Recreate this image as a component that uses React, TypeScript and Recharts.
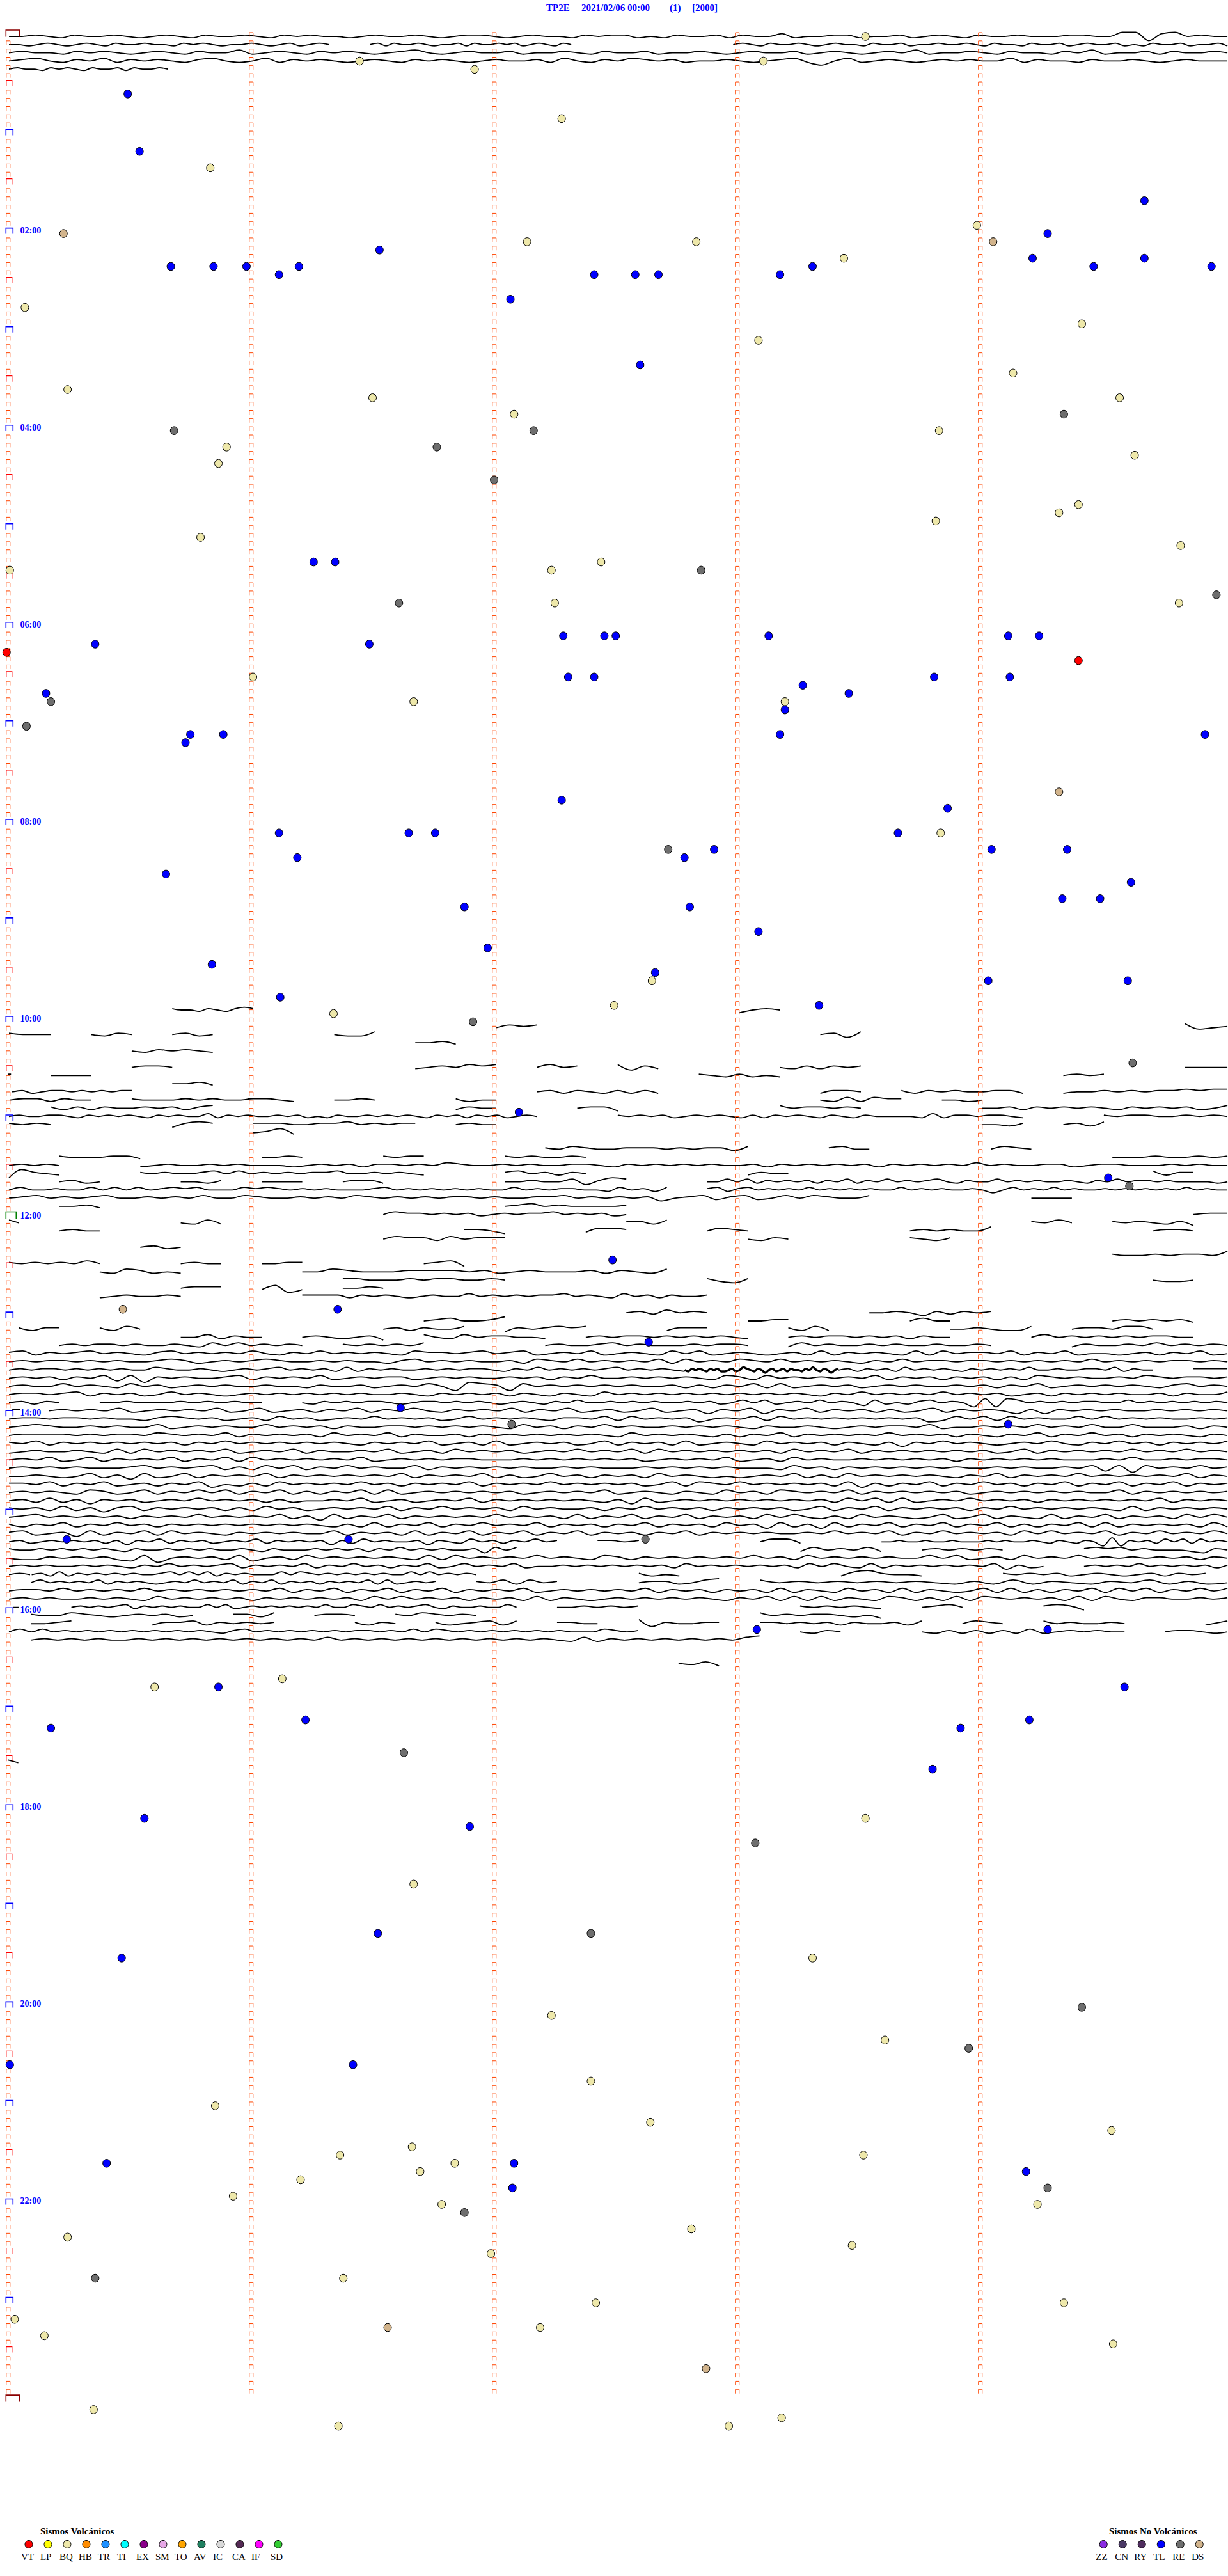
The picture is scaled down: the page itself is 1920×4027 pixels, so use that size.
import React from "react";
import {ComposedChart, Line, Scatter, XAxis, YAxis} from "recharts";

// every dot is [row of 5 minutes, second inside that row]
const bqEvents: [number, number][] = [
    [0, 210.8], [3, 86.4], [4, 114.7], [3, 185.7], [10, 136.1], [16, 49.7], [23, 238.2], [25, 127.6], [25, 169.2],
    [27, 205.5], [33, 4.1], [35, 264], [37, 184.5], [41, 247.1], [43, 14.6], [44, 89.6], [44, 273.3], [46, 124.4],
    [48, 228.9], [50, 53.7], [52, 51.7], [51, 277], [57, 263.2], [58, 258.4], [59, 228.1], [61, 47.3], [62, 288.3],
    [65, 133.6], [64, 145.8], [65, 0.4], [69, 134.4], [69, 287.9], [78, 60.2], [81, 99.7], [81, 191], [97, 229.3],
    [119, 80], [118, 149], [115, 158.3], [201, 36], [200, 67.4], [217, 210.8], [225, 99.7], [234, 197.8], [241, 133.6],
    [244, 215.6], [249, 143.3], [252, 50.9], [254, 157.9], [255, 271.3], [257, 99.3], [258, 81.6], [259, 109.8],
    [258, 210.3], [260, 101.3], [261, 71.9], [263, 55.3], [264, 106.6], [264, 253.1], [268, 14.6], [267, 168],
    [269, 207.5], [270, 118.7], [273, 82.4], [276, 144.5], [276, 259.6], [278, 1.6], [280, 8.9], [279, 130.8],
    [281, 271.7], [289, 21], [291, 81.2], [291, 177.2], [290, 190.2],
]
const tlEvents: [number, number][] = [
    [7, 29.4], [14, 32.3], [20, 279.4], [24, 255.6], [26, 91.3], [27, 251.9], [27, 279.4], [28, 40], [28, 50.5],
    [28, 58.6], [28, 71.5], [28, 266.9], [28, 295.9], [29, 66.6], [29, 144.1], [29, 154.2], [29, 159.9], [29, 189.8],
    [28, 197.8], [32, 123.5], [40, 155.4], [64, 75.1], [64, 80.4], [74, 21.4], [74, 88.8], [73, 136.5], [73, 146.6],
    [73, 149.4], [73, 187], [73, 245.9], [73, 253.5], [78, 137.7], [78, 144.1], [78, 227.7], [78, 246.3], [79, 195.4],
    [80, 9.3], [80, 206.7], [82, 191], [85, 189.8], [85, 294.3], [85, 44.8], [85, 52.9], [86, 43.6], [93, 136.1],
    [94, 231], [97, 66.6], [97, 98.5], [97, 105], [97, 218.8], [100, 71.1], [99, 173.6], [100, 166.3], [99, 241.8],
    [99, 260.4], [103, 276.1], [102, 38.8], [105, 259.2], [105, 268.5], [106, 112.2], [106, 167.6], [109, 184.5],
    [111, 117.9], [113, 50.1], [114, 159.1], [115, 241], [115, 275.3], [117, 66.9], [118, 199.4], [131, 125.6],
    [139, 270.5], [149, 148.6], [155, 81], [159, 157.5], [167, 96.5], [169, 245.9], [183, 14.4], [183, 83.7], [194, 184.1],
    [194, 255.6], [201, 51.7], [201, 274.5], [205, 73.1], [206, 10.5], [206, 234.2], [205, 251.1], [211, 227.3],
    [217, 33.5], [218, 113.5], [231, 90.9], [234, 27.9], [247, 84.8], [247, 0.4], [259, 24.2], [259, 124.4], [262, 124],
    [260, 250.3],
]
const reEvents: [number, number][] = [
    [48, 40.8], [50, 105.4], [48, 129.2], [46, 259.6], [54, 119.5], [65, 170.4], [69, 96.1], [68, 297.1], [81, 10.5],
    [84, 4.5], [99, 162.3], [120, 114.3], [125, 276.5], [140, 275.7], [169, 123.8], [183, 156.7], [209, 97.3],
    [220, 183.7], [231, 143.3], [240, 264], [245, 236.2], [265, 112.2], [262, 255.6], [273, 21.4],
]
const dsEvents: [number, number][] = [
    [24, 13.6], [25, 242.2], [92, 258.4], [155, 28.2], [279, 93.3], [284, 171.6],
]
const vtEvents: [number, number][] = [[75, -0.4], [76, 263.2]]

const volcanicCodes = ["VT", "LP", "BQ", "HB", "TR", "TI", "EX", "SM", "TO", "AV", "IC", "CA", "IF", "SD"]
const volcanicColors = ["#ff0000", "#ffff00", "#eee8aa", "#ff8c00", "#1e90ff", "#00ffff", "#8b008b", "#e6a8e6", "#ffa500", "#208060", "#d8d8d8", "#552a55", "#ff00ff", "#32cd32"]
const otherCodes = ["ZZ", "CN", "RY", "TL", "RE", "DS"]
const otherColors = ["#8a2be2", "#4b3a66", "#4f2d5e", "#0000ff", "#6e6e6e", "#d2b48c"]
const hourRows = [24, 48, 72, 96, 120, 144, 168, 192, 216, 240, 264]
const hourLabels = ["02:00", "04:00", "06:00", "08:00", "10:00", "12:00", "14:00", "16:00", "18:00", "20:00", "22:00"]
const minuteMarks = [0, 60, 120, 180, 240]

// [row, first second, last second, wiggle of the trace: 5 is the row line, higher digit is higher on the page]
const traces: [number, number, number, string][] = [
    [0, 0.2, 301, "5565465565456546556546565545655654566545655465664546556465574556645564565465565556655882785655"],
    [1, 0.2, 79.2, "5545654565465565546565455654564565"],
    [1, 89.3, 139, "56465565455646556564565465"],
    [1, 179, 301, "565465565456554655645565565465546556456556454655645564"],
    [2, 0.2, 301, "5655465654565465574565465654567545655645565465564556545655645654565745565465546574556465565"],
    [3, 0.2, 301, "5675465746565467545746565456546565456556475465765645565456742574565456565574655465565456555"],
    [4, 0.2, 39.4, "56554656546556465565"],

    [119, 40.5, 60.5, "6554654676"], [119, 180.5, 190.5, "3565"],
    [121, 120.5, 130.5, "4656"], [121, 290.5, 301, "7345"],
    [122, 0.2, 10.5, "6555"], [122, 20.5, 30.5, "5465"], [122, 40.5, 50.5, "5645"], [122, 80.5, 90.5, "5447"], [122, 200.5, 210.5, "5637"],
    [123, 100.5, 110.5, "5564"],
    [124, 30.5, 50.5, "5465654"],
    [126, 30.5, 40.5, "5665"], [126, 100.5, 120.5, "4565767"], [126, 130.5, 140.5, "5756"], [126, 150.5, 160.5, "7364"], [126, 190.5, 210.5, "5464656"], [126, 290.5, 301, "5555"],
    [127, 0, 0.7, "66"], [127, 10.5, 20.5, "5555"], [127, 170.5, 190.5, "6546454"], [127, 260.5, 270.5, "5656"],
    [128, 40.5, 50.5, "5564"],
    [129, 1, 30.5, "5645665656566"], [129, 130.5, 160.5, "5646546464"], [129, 200.5, 210.5, "4665"], [129, 220.5, 250.5, "6465655664"], [129, 260.5, 301, "4556565667677"],
    [130, 0.5, 20.5, "5664655"], [130, 30.5, 70.5, "6555656556654"], [130, 80.5, 90.5, "5565"], [130, 110.5, 120.5, "6455"], [130, 200.5, 220.5, "5474766"], [130, 230.5, 240.5, "5545"],
    [131, 10.5, 50.5, "6464655656467"], [131, 110.5, 120.5, "4655"], [131, 140.5, 150.5, "5663"], [131, 190.5, 210.5, "7566565"], [131, 240.5, 301, "5564656565465656457"],
    [132, 0.2, 130.5, "565566546565654656557465655656454655656565465646564565"],
    [132, 150.5, 250.5, "6565645656546465654654655554746656654"],
    [132, 270.5, 301, "6566556565"],
    [133, 0.2, 10.5, "6565"], [133, 40.5, 50.5, "3676"], [133, 60.5, 100.5, "6665566756566"], [133, 110.5, 120.5, "5655"], [133, 240.5, 250.5, "5546"], [133, 260.5, 270.5, "5647"],
    [134, 60.5, 70.5, "5684"],

    [136, 132.6, 182.6, "6576556665656647"], [136, 202.6, 212.6, "6755"], [136, 242.6, 252.6, "5765"],
    [137, 12.6, 32.6, "6555664"], [137, 62.6, 72.6, "5565"], [137, 92.6, 102.6, "6566"], [137, 122.6, 142.6, "6565565"], [137, 272.6, 301, "555655656"],
    [138, 0.2, 12.6, "56565"],
    [138, 32.6, 301, "4565565655545656466565765565655665465656565564656565646565657565566456655565655"],
    [139, 0.2, 12.6, "28654"],
    [139, 32.6, 102.6, "656556757565656675565654"], [139, 122.6, 142.6, "6756465"], [139, 182.6, 192.6, "4655"], [139, 282.6, 292.6, "7466"],
    [140, 12.6, 22.6, "5645"], [140, 42.6, 52.6, "5546"], [140, 62.6, 72.6, "5555"], [140, 82.6, 92.6, "5664"], [140, 122.6, 152.6, "5565573687"], [140, 172.6, 301, "55757465656465746575656754655756565565465756656555545"],
    [141, 0.2, 162.6, "575565575757567675557676565655567565656565575656655475647"],
    [141, 172.6, 301, "6746756565756565655756565565357565756556565656575655"],
    [142, 0.2, 212.6, "567565675565657557655656576565656656556675656563567467457576557"],
    [142, 252.6, 262.6, "5555"],
    [143, 12.6, 22.6, "5564"], [143, 122.6, 152.6, "5675655556"],
    [144, 92.6, 152.6, "576656564565667565645"], [144, 292.6, 301, "566"],
    [145, 0.2, 2.6, "75"], [145, 42.6, 52.6, "5474"], [145, 152.6, 162.6, "6647"], [145, 252.6, 262.6, "6575"], [145, 272.6, 292.6, "6565463"],
    [146, 12.6, 22.6, "5655"], [146, 112.6, 122.6, "6653"], [146, 142.6, 152.6, "4776"], [146, 172.6, 182.6, "5765"], [146, 222.6, 242.6, "5656558"], [146, 282.6, 292.6, "5665"],
    [147, 92.6, 122.6, "5766475666"], [147, 182.6, 192.6, "5465"], [147, 222.6, 232.6, "6546"],
    [148, 32.6, 42.6, "5645"],
    [149, 272.6, 301, "655656658"],
    [150, 0.2, 22.6, "65656575"], [150, 42.6, 52.6, "5655"], [150, 62.6, 72.6, "5566"], [150, 102.6, 112.6, "5673"],
    [151, 22.6, 42.6, "5476454"], [151, 72.6, 162.6, "5576555666656456555646547"],
    [152, 82.6, 122.6, "6655565665565"], [152, 172.6, 182.6, "6436"], [152, 282.6, 292.6, "5445"],
    [153, 42.6, 52.6, "5666"], [153, 62.6, 72.6, "4724"], [153, 82.6, 92.6, "5565"],
    [154, 22.6, 42.6, "4565565"], [154, 72.6, 172.6, "66664656545655756565667565475646556"],
    [156, 152.6, 172.6, "5647565"], [156, 212.6, 242.6, "5565364656"],
    [157, 102.6, 122.6, "5675568"], [157, 182.6, 192.6, "5566"], [157, 222.6, 232.6, "5755"], [157, 272.6, 292.6, "5656564"],
    [158, 2.6, 12.6, "6466"], [158, 22.6, 32.6, "6475"], [158, 92.6, 112.6, "5646557"], [158, 122.6, 142.6, "3656767"], [158, 162.6, 172.6, "4666"], [158, 192.6, 202.6, "6474"], [158, 232.6, 252.6, "5565447"], [158, 262.6, 282.6, "5665775"],
    [159, 42.6, 62.6, "5574655"], [159, 72.6, 92.6, "5654563"], [159, 102.6, 132.6, "7547566554"], [159, 142.6, 182.6, "5656656565654"], [159, 192.6, 232.6, "5656656564655"], [159, 252.6, 292.6, "5756565656655"],
    [160, 12.6, 72.6, "56566565565475756565"], [160, 82.6, 102.6, "6565657"], [160, 132.6, 182.6, "5655675655565665"], [160, 192.6, 242.6, "4756556565565565"], [160, 262.6, 301, "465565756565"],

    [161, 0.2, 301, "6746567565467565657546575656547665675674565745654757456545647465654747566574657455456465745"],
    [162, 0.2, 301, "5656656565567645656765565655467565655647657565657475657657565654657566566565656575656566565"],
    [163, 0.2, 167, "5656656565655765565456567565647465655656566546575656567565654"],
    [163, 205, 282.6, "5646564756565465656575565566574655"],
    [163, 292.6, 301, "666"],
    [164, 0.2, 301, "5656465737265655674656574565664565655656465755656565476475656565746564656464765655657656656"],
    [165, 0.2, 301, "5655756547564565655655465564565752876275656565655646465747456564565655656465745656565467565"],
    [166, 0.2, 301, "5665674656457565456565656565565465656465465475656565656565654657565657565645646565655646557"],
    [167, 0.2, 12.6, "56465"],
    [167, 22.6, 62.6, "5565556565655"],
    [167, 72.6, 301, "5465656654566565654565465755656565565645757456575653745467565282875656566557565656565"],
    [168, 1, 3, "66"], [168, 10, 301, "5656574565657457456465746575465657465745645745636573657465646457465653636565655656565"],
    [169, 0.2, 301, "5665665655467656456475645657565645756565466574756563565747565656565634757475655757565655656"],
    [170, 0.2, 301, "5676556565574565655756564655665656565475646575655656565465565456566574556565756575575556465"],
    [171, 0.2, 301, "5666656566576565746565647565746556465656565654756565464657465656575656465465746575646565465"],
    [172, 0.2, 301, "6574656565656465756565656546565745647456564574656474565475656465463657565456575465756465657"],
    [173, 0.2, 301, "4565565474756565745657465565745647565645657565747565656564756574656565656457465656575657565"],
    [174, 0.2, 301, "5657457465657465747565656574565656655565656565645656574564756556565656465656565556575565665"],
    [175, 0.2, 301, "5656565556756567464757465756557465656565565655565656565554756465656565655656556573727565756"],
    [176, 0.2, 301, "5565457463745746565746565656574656574645756465647565454565746475656565465746565756565657465"],
    [177, 0.2, 301, "6657465745646573546475656575646565746565756565645747657565656473646574657564657465746574656"],
    [178, 0.2, 301, "5656547645746575746574646574745656565645656574565465475647656574656565645656565655746565656"],
    [179, 0.2, 301, "5647463656456575656464556574564565746565656546374565656565656475747456575656465656565746565"],
    [180, 0.2, 301, "6564746367465656464756456565746575656475655646575656465656457465746565646575656565474656565"],
    [181, 0.2, 301, "5675656564656575656574637465746565657565647465746574656475754647565457457465474657465647575"],
    [182, 0.2, 301, "6465746575646565656565654647465746575657465646574656475637463746574657465746465747465656474"],
    [183, 0.2, 301, "6745637465747565465656557465647465746574657465646574656565565756574657565647575657465756575"],
    [184, 0.2, 135.5, "5645656564636574656456574656563647565563654756465756"],
    [184, 145.5, 155.7, "6656"], [184, 185.6, 195.6, "5774"],
    [184, 215.6, 301, "5565565565556565565465465282656475747565"],
    [185, 0.2, 125.5, "6556565656546556565655654655565656465756565563757"],
    [185, 195.6, 215.5, "4756574"], [185, 225.6, 245.5, "5656565"], [185, 265.6, 301, "6767565554365"],
    [186, 0.2, 301, "5446565643725656473564756565654747565657565476465656565756475656565575745647565756565656465"],
    [187, 0.2, 255.6, "5656556565465756567465657465756465745756574556565656564756565656475754746565656573645"],
    [187, 265.6, 301, "56565756565646"],
    [188, 0.2, 5.4, "565"], [188, 5.8, 115.5, "5647465656565567575746565557576565656565575756565"],
    [188, 155.7, 165.7, "6454"], [188, 205.6, 225.5, "4786554"], [188, 245.6, 295.6, "6565645654564656"],
    [189, 5.6, 105.5, "5756565746565456575657465746564656574745656"],
    [189, 115.5, 135.5, "6574756"], [189, 155.7, 175.5, "5664578"], [189, 185.6, 301, "7565656565464746546574645"],
    [190, 0.2, 301, "5665756565756565656574657465746574656574565656574656465647465475647465457474646574757465757"],
    [191, 0.2, 301, "5656556565475656564656565647575656465647465456565656546574747465476464747656564747546655656"],
    [192, 1.2, 2.6, "55"], [192, 15.6, 125.5, "56565674656565575745656565657557657565675465565575"],
    [192, 135.5, 155.5, "5565656"], [192, 195.5, 215.5, "6565654"], [192, 225.6, 235.6, "5675"], [192, 255.6, 265.6, "6763"],
    [193, 5.6, 45.6, "6557654565645"], [193, 55.6, 65.6, "6647"], [193, 75.6, 85.6, "5665"], [193, 95.6, 115.5, "6576565"], [193, 185.6, 215.5, "7565665453"],
    [194, 5.6, 15.6, "5567"], [194, 35.6, 65.6, "4667465656"], [194, 85.6, 95.6, "6465"], [194, 105.5, 125.5, "6456747"], [194, 135.5, 145.5, "6655"], [194, 155.7, 175.5, "8365566"], [194, 185.6, 225.5, "6656564655647"], [194, 235.6, 245.5, "5765"], [194, 255.6, 275.6, "7565565"], [194, 295.6, 301, "47"],
    [195, 0.2, 155.5, "575756565656565656546756565656566565757656565656565557656"],
    [195, 195.5, 205.5, "5465"], [195, 225.6, 275.6, "5464646474565655"], [195, 285.6, 301, "566545"],
    [196, 5.6, 185.5, "5656565565656565656565756565656565656565474656565656578"],
    [199, 165.5, 175.5, "6574"],
    [211, 0, 2.5, "75"],
]
// the one stretch that reads as a heavy band of signal
const heavyTraces: [number, number, number, string][] = [
    [163, 167, 205, "5465654656445645765465356456465546575465356"],
]

const traceLine = (rows: [number, number, number, string][]) => rows.flatMap(([row, from, to, wiggle]) => {
    const points = wiggle.split("").map((d, i) => ({
        t: from + i * (to - from) / (wiggle.length - 1),
        row: row - (Number(d) - 5) * 0.17,
    }))
    return [...points, {t: to, row: null}]
})

// dots were read against the full page width, ticks against the minute columns
const events = (rows: [number, number][]) => rows.map(([row, t]) => ({row, t: t * 1.004}))

const tickKind = (row: number, minute: number) => {
    if (minute !== 0) return {color: "#ff4500", left: 3, right: 3, height: 6, width: 1}
    if (row === 0 || row === 288) return {color: "#8b0000", left: 3.5, right: 17.5, height: 10, width: 1.6}
    if (row === 144) return {color: "#008000", left: 3.5, right: 12.5, height: 11, width: 1.6}
    if (row % 12 === 0) return {color: "#0000ff", left: 3.5, right: 7.5, height: 8.5, width: 1.6}
    if (row % 6 === 0) return {color: "#ff0000", left: 3, right: 6, height: 8.5, width: 1.2}
    return {color: "#ff4500", left: 3, right: 3, height: 6, width: 1}
}

const tickPoints: { t: number, row: number, minute: number }[] = []
minuteMarks.forEach(m => {
    for (let row = 0; row <= 288; row++) {
        if (m !== 0 && row === 288) continue
        tickPoints.push({t: m, row, minute: m})
    }
})

const TickMark = (props: any) => {
    const {cx, cy, payload} = props
    const k = tickKind(payload.row, payload.minute)
    return <path d={`M${cx - k.left} ${cy + 0.5}V${cy - k.height}H${cx + k.right}V${cy + 0.5}`}
                 fill="none" stroke={k.color} strokeWidth={k.width}/>
}

const eventDot = (fill: string) => (props: any) =>
    <ellipse cx={props.cx} cy={props.cy} rx={6} ry={6.3} fill={fill} stroke="#000" strokeWidth={1}/>

const LegendDot = (props: any) =>
    <circle cx={props.cx} cy={props.cy} r={6} fill={props.payload.color} stroke="#000" strokeWidth={1}/>

const serif = '"Liberation Serif", serif'

const HourLabel = (props: any) =>
    <text x={props.cx} y={props.cy - 5} dominantBaseline="central" fontFamily={serif} fontWeight="bold"
          fontSize={14} fill="#0000ff">{props.payload.label}</text>

const legendRow = 305.4
const legendStep = 4.737
const volcanicLegend = volcanicCodes.map((code, i) => ({
    code, color: volcanicColors[i], row: legendRow, t: 5.08 + i * legendStep,
}))
const otherLegend = otherCodes.map((code, i) => ({
    code, color: otherColors[i], row: legendRow, t: 270.4 + i * legendStep,
}))
const hourMarks = hourRows.map((row, i) => ({row, t: 2.95, label: hourLabels[i]}))

const LegendCode = (props: any) =>
    <text x={props.cx - 12} y={props.cy + 20} dominantBaseline="central" fontFamily={serif} fontSize={15}
          fill="#000">{props.payload.code}</text>

const absText = (left: number, top: number, color: string, size: number, weight: string): React.CSSProperties => ({
    position: "absolute", left, top, color, fontSize: size, fontWeight: weight, fontFamily: serif,
    whiteSpace: "pre", lineHeight: "16px",
})

export default function App() {
    return <div style={{position: "absolute", left: 0, top: 0, width: 1920, height: 4027, background: "#fff"}}>
        <ComposedChart width={1920} height={4027} margin={{top: 0, right: 0, bottom: 0, left: 0}}>
            <XAxis hide type="number" dataKey="t" domain={[-2.02, 301.15]} allowDataOverflow/>
            <YAxis hide yAxisId="event" type="number" dataKey="row" reversed domain={[-4.44, 309.26]} allowDataOverflow/>
            <YAxis hide yAxisId="trace" type="number" dataKey="row" reversed domain={[-4.457, 310.4]} allowDataOverflow/>
            <Scatter yAxisId="event" data={tickPoints} shape={TickMark} isAnimationActive={false}/>
            <Line yAxisId="trace" data={traceLine(traces)} dataKey="row" type="monotone" dot={false} stroke="#000"
                  strokeWidth={1.8} isAnimationActive={false} legendType="none"/>
            <Line yAxisId="trace" data={traceLine(heavyTraces)} dataKey="row" type="monotone" dot={false} stroke="#000"
                  strokeWidth={3.4} isAnimationActive={false} legendType="none"/>
            <Scatter yAxisId="event" data={events(bqEvents)} shape={eventDot("#eee8aa")} isAnimationActive={false}/>
            <Scatter yAxisId="event" data={events(tlEvents)} shape={eventDot("#0000ff")} isAnimationActive={false}/>
            <Scatter yAxisId="event" data={events(reEvents)} shape={eventDot("#6e6e6e")} isAnimationActive={false}/>
            <Scatter yAxisId="event" data={events(dsEvents)} shape={eventDot("#d2b48c")} isAnimationActive={false}/>
            <Scatter yAxisId="event" data={events(vtEvents)} shape={eventDot("#ff0000")} isAnimationActive={false}/>
            <Scatter yAxisId="event" data={hourMarks} shape={HourLabel} isAnimationActive={false}/>
            <Scatter yAxisId="event" data={volcanicLegend} shape={LegendDot} isAnimationActive={false}/>
            <Scatter yAxisId="event" data={otherLegend} shape={LegendDot} isAnimationActive={false}/>
            <Scatter yAxisId="event" data={volcanicLegend} shape={LegendCode} isAnimationActive={false}/>
            <Scatter yAxisId="event" data={otherLegend} shape={LegendCode} isAnimationActive={false}/>
        </ComposedChart>
        <span style={absText(854, 4, "#0000ff", 15, "bold")}>TP2E</span>
        <span style={absText(909, 4, "#0000ff", 15, "bold")}>2021/02/06 00:00</span>
        <span style={absText(1047, 4, "#0000ff", 15, "bold")}>(1)</span>
        <span style={absText(1082, 4, "#0000ff", 15, "bold")}>[2000]</span>
        <span style={absText(63, 3949, "#000", 15, "bold")}>Sismos Volcánicos</span>
        <span style={absText(1734, 3949, "#000", 15, "bold")}>Sismos No Volcánicos</span>
    </div>
}
